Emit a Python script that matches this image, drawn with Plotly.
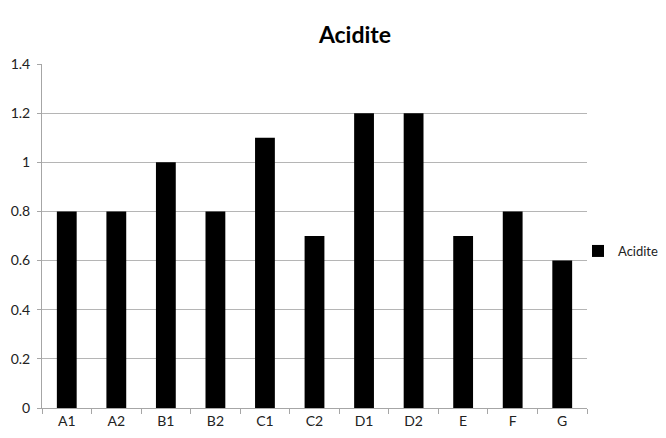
import plotly.graph_objects as go

categories = ["A1", "A2", "B1", "B2", "C1", "C2", "D1", "D2", "E", "F", "G"]
acidite = [0.8, 0.8, 1.0, 0.8, 1.1, 0.7, 1.2, 1.2, 0.7, 0.8, 0.6]
y_ticks = [0, 0.2, 0.4, 0.6, 0.8, 1, 1.2, 1.4]
y_tick_labels = ["0", "0.2", "0.4", "0.6", "0.8", "1", "1.2", "1.4"]

font_family = "Lato, Open Sans, sans-serif"

fig = go.Figure(
    go.Bar(
        x=categories,
        y=acidite,
        name="Acidite",
        marker=dict(color="#000000", line=dict(width=0)),
        showlegend=True,
    )
)

fig.update_layout(
    width=666,
    height=438,
    margin=dict(l=42, r=79, t=64, b=30, autoexpand=False),
    paper_bgcolor="white",
    plot_bgcolor="white",
    bargap=0.6,
    font=dict(family=font_family, size=14, color="#222222"),
    title=dict(
        text="<b>Acidite</b>",
        x=355 / 666,
        xanchor="center",
        y=1 - 35 / 438,
        yanchor="middle",
        font=dict(family=font_family, size=23, color="#000000"),
    ),
    legend=dict(
        xref="container",
        yref="container",
        x=578 / 666,
        y=1 - 251 / 438,
        xanchor="left",
        yanchor="middle",
        font=dict(family=font_family, size=13, color="#222222"),
        bgcolor="rgba(0,0,0,0)",
        itemwidth=30,
    ),
)

fig.update_xaxes(
    type="category",
    showline=True,
    linecolor="#a6a6a6",
    linewidth=1,
    ticks="outside",
    tickson="boundaries",
    ticklen=5,
    tickcolor="#a6a6a6",
    showgrid=False,
    tickfont=dict(size=14),
)

fig.update_yaxes(
    range=[0, 1.4],
    tickvals=y_ticks,
    ticktext=y_tick_labels,
    showline=True,
    linecolor="#a6a6a6",
    linewidth=1,
    ticks="outside",
    ticklen=4,
    tickcolor="#a6a6a6",
    ticklabelstandoff=4,
    showgrid=True,
    gridcolor="#b5b5b5",
    gridwidth=1,
    zeroline=False,
    tickfont=dict(size=14),
)

fig.write_html("out.html")
